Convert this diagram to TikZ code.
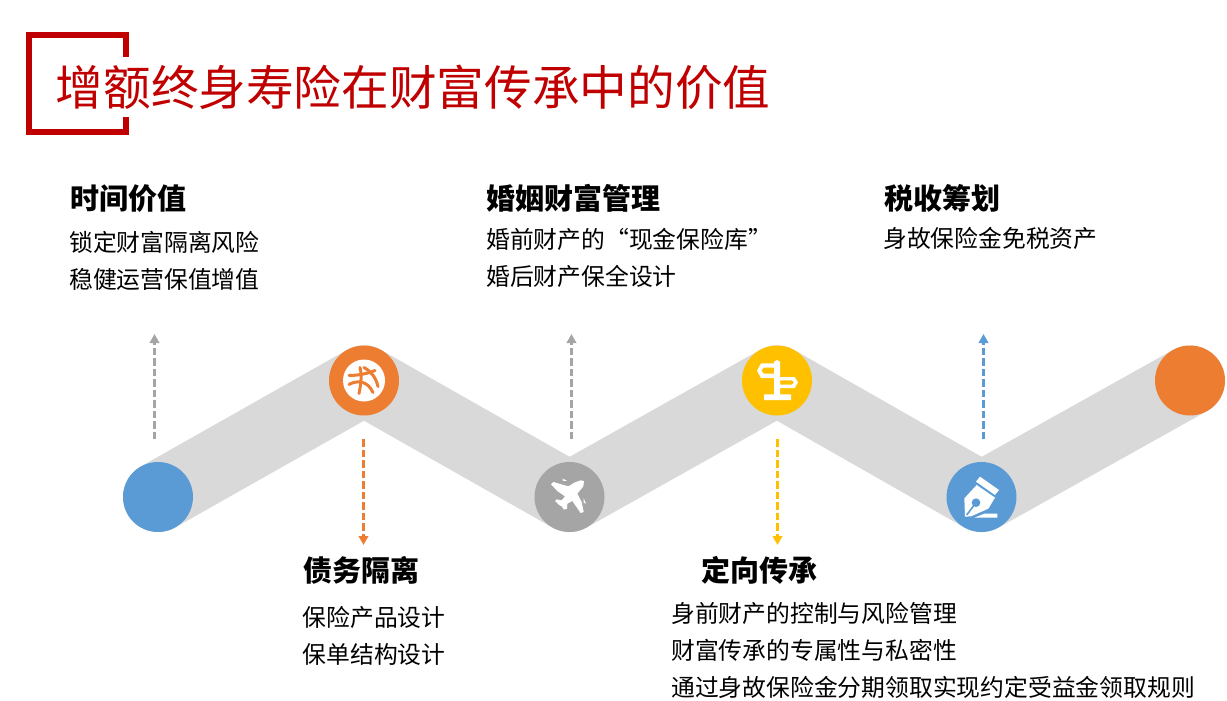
\documentclass[tikz,border=0pt]{standalone}
\usepackage{fontspec}
\setmainfont{Noto Sans CJK SC}
\usetikzlibrary{arrows.meta}
\definecolor{cblue}{HTML}{5B9BD5}
\definecolor{corange}{HTML}{ED7D31}
\definecolor{cgray}{HTML}{A5A5A5}
\definecolor{cyellow}{HTML}{FFC000}
\definecolor{cband}{HTML}{D9D9D9}
\definecolor{cred}{HTML}{C00000}
\tikzset{
  dot/.style={circle,minimum size=70pt,inner sep=0pt,fill=#1},
  flow/.style={draw=#1,line width=3.3pt,dash pattern=on 7.5pt off 3pt,-{Triangle[length=9pt,width=9.5pt,fill=#1]}},
  head/.style={anchor=base west,inner sep=0pt,font=\fontsize{29}{29}\selectfont\bfseries},
  body/.style={anchor=base west,inner sep=0pt,font=\fontsize{23.8}{24}\selectfont},
  titletext/.style={anchor=base west,inner sep=0pt,text=cred,font=\fontsize{47.65}{48}\selectfont}
}
\begin{document}
\begin{tikzpicture}[x=1pt,y=-1pt]
\useasboundingbox (0,0) rectangle (1227,701);
% title bracket
\draw[cred,line width=6pt,line join=miter] (126,57)--(126,35)--(29,35)--(29,132)--(126,132)--(126,117);
\node[titletext] (title) at (55.5,106) {增额终身寿险在财富传承中的价值};
% circles positions
\coordinate (p1) at (158,497);
\coordinate (p2) at (364,380.5);
\coordinate (p3) at (569.5,497);
\coordinate (p4) at (777,380.5);
\coordinate (p5) at (981.5,497);
\coordinate (p6) at (1190,380.5);
\draw[cband,line width=70pt,line cap=round,line join=round] (p1)--(p2)--(p3)--(p4)--(p5)--(p6);
\node[dot=cblue] (c1) at (p1) {};
\node[dot=corange] (c2) at (p2) {};
\node[dot=cgray] (c3) at (p3) {};
\node[dot=cyellow] (c4) at (p4) {};
\node[dot=cblue] (c5) at (p5) {};
\node[dot=corange] (c6) at (p6) {};
% ball icon
\begin{scope}[shift={(p2)}]
\fill[white] (0,0) circle (21);
\begin{scope}[corange,line width=3pt,line cap=round]
\draw (-15,-5) .. controls (-6,-5) and (4,-7) .. (11,-10);
\draw (-4,-13) .. controls (-2,-6) and (-3,4) .. (-5,13);
\draw (-15,4) .. controls (-8,0) and (3,-1) .. (9,12);
\draw (0,-13) .. controls (7,-9) and (12,-3) .. (14,6);
\end{scope}
\end{scope}
% plane icon (coordinates are 3x crop units)
\begin{scope}[shift={(540,467)},scale=1/3]
\fill[white] (132,42) -- (130,58) -- (112,80) -- (125,105) -- (131,135) -- (122,138) -- (97,102) -- (82,110) -- (81,125) -- (72,128) -- (65,118) -- (56,113) -- (45,102) -- (50,97) -- (65,100) -- (75,88) -- (52,72) -- (33,52) -- (40,45) -- (85,58) -- (105,46) -- (122,40) -- cycle;
\fill[white] (68,35) -- (81,41) -- (69,42) -- cycle;
\fill[white] (131,94) -- (138,110) -- (131,107) -- cycle;
\end{scope}
% signpost icon
\begin{scope}[shift={(747,350)},scale=1/3]
\fill[white,even odd rule] (30,62) -- (42,40) -- (81,40) -- (81,35) -- (90,30) -- (99,35) -- (99,81) -- (143,81) -- (153,97) -- (143,114) -- (99,114) -- (99,133) -- (132,133) -- (132,150) -- (51,150) -- (51,133) -- (81,133) -- (81,84) -- (42,84) -- cycle
 (43,62) -- (50,53) -- (81,53) -- (81,71) -- (50,71) -- cycle
 (99,91) -- (135,91) -- (141,97) -- (135,104) -- (99,104) -- cycle;
\end{scope}
% pen icon
\begin{scope}[shift={(951,467)},scale=1/3]
\fill[white] (75,44) -- (87,29) -- (144,69) -- (132,84) -- cycle;
\fill[white] (77,54) -- (132,92) -- (112,125) -- (60,148) -- (42,149) -- (40,94) -- cycle;
\fill[cblue] (75,107) circle (13);
\draw[cblue,line width=1.6pt] (75,107) -- (47,144);
\fill[white] (70,152) -- (100,140) -- (139,140) -- (139,152) -- cycle;
\end{scope}
% flow arrows
\coordinate (a1s) at (154.5,439); \coordinate (a1e) at (154.5,334);
\coordinate (a2s) at (363.5,439); \coordinate (a2e) at (363.5,545);
\coordinate (a3s) at (571.5,439); \coordinate (a3e) at (571.5,334);
\coordinate (a4s) at (777.5,439); \coordinate (a4e) at (777.5,545);
\coordinate (a5s) at (983.5,439); \coordinate (a5e) at (983.5,334);
\draw[flow=cgray] (a1s)--(a1e);
\draw[flow=corange] (a2s)--(a2e);
\draw[flow=cgray] (a3s)--(a3e);
\draw[flow=cyellow] (a4s)--(a4e);
\draw[flow=cblue] (a5s)--(a5e);
% labels
\node[head] (h1) at (70,209) {时间价值};
\node[body] (b1a) at (69,251) {锁定财富隔离风险};
\node[body] (b1b) at (69,288) {稳健运营保值增值};
\node[head] (h2) at (486,209) {婚姻财富管理};
\node[body] (b2a) at (486,248) {婚前财产的“现金保险库”};
\node[body] (b2b) at (486,285) {婚后财产保全设计};
\node[head] (h3) at (884,209) {税收筹划};
\node[body] (b3a) at (883,247) {身故保险金免税资产};
\node[head] (h4) at (303,581) {债务隔离};
\node[body] (b4a) at (302.5,626) {保险产品设计};
\node[body] (b4b) at (302.5,663) {保单结构设计};
\node[head] (h5) at (701,581) {定向传承};
\node[body] (b5a) at (671,622) {身前财产的控制与风险管理};
\node[body] (b5b) at (671,659) {财富传承的专属性与私密性};
\node[body] (b5c) at (671,696) {通过身故保险金分期领取实现约定受益金领取规则};
\end{tikzpicture}
\end{document}
